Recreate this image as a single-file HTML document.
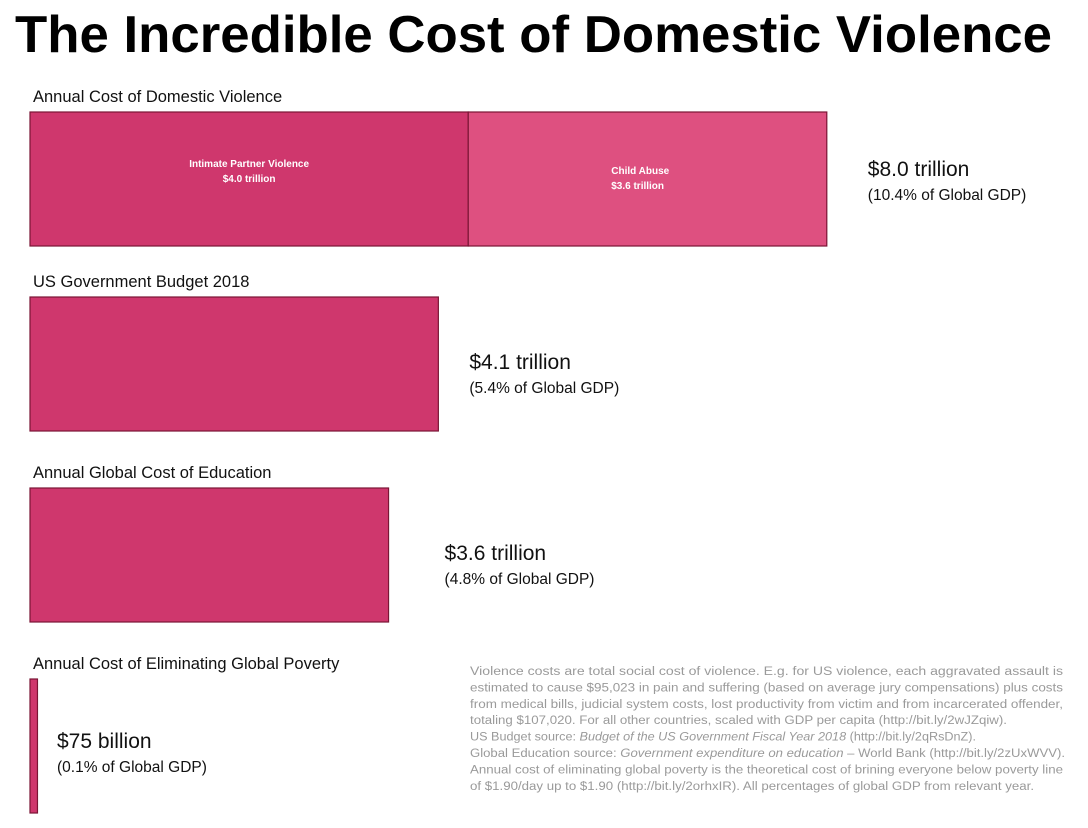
<!DOCTYPE html>
<html><head><meta charset="utf-8"><style>
html,body{margin:0;padding:0;background:#fff;}
svg{display:block;font-family:"Liberation Sans",sans-serif;}
</style></head><body>
<svg id="chart" width="1088" height="828" viewBox="0 0 1088 828" xmlns="http://www.w3.org/2000/svg">
<text x="15" y="52" font-size="52" font-weight="bold" fill="#000" textLength="1037" lengthAdjust="spacingAndGlyphs">The Incredible Cost of Domestic Violence</text>
<g id="bars"></g>
<g id="notes" font-size="11.5" fill="#9a9a9a"></g>
</svg>
<script>
const categories = ["Annual Cost of Domestic Violence","US Government Budget 2018","Annual Global Cost of Education","Annual Cost of Eliminating Global Poverty"];
const totalLabels = ["$8.0 trillion","$4.1 trillion","$3.6 trillion","$75 billion"];
const gdpLabels = ["(10.4% of Global GDP)","(5.4% of Global GDP)","(4.8% of Global GDP)","(0.1% of Global GDP)"];
const values = [8.0, 4.1, 3.6, 0.075];
const segNames = ["Intimate Partner Violence","Child Abuse"];
const segLabels = ["$4.0 trillion","$3.6 trillion"];
const segValues = [4.4, 3.6];

const NS = "http://www.w3.org/2000/svg";
const x0 = 30, pxPerT = 99.6;
const xScale = v => v * pxPerT;
const rowTops = [112, 297, 488, 679];
const labelOffsets = [41, 31, 56, 0];
const barH = 134;
const g = document.getElementById('bars');
function mk(tag, attrs, txt){const e=document.createElementNS(NS,tag);for(const k in attrs)e.setAttribute(k,attrs[k]);if(txt!==undefined)e.textContent=txt;return e;}

categories.forEach((c,i)=>{
  const y = rowTops[i];
  const lab = mk('text',{x:33,y:y-10,'font-size':16.5,fill:'#111'},c);
  
  
  g.appendChild(lab);
  if(i===0){
    let x=x0;
    segValues.forEach((v,j)=>{
      const w=xScale(v);
      const r=mk('rect',{x:x,y:y,width:w,height:barH,fill:j===0?'#cf376d':'#de5080',stroke:'#7a1535','stroke-width':1.2});
      
      
      g.appendChild(r);
      const anchor=j===0?'middle':'start';
      const tx=j===0?x+w/2:x+143;
      const ty=j===0?y+55:y+62;
      const t1=mk('text',{x:tx,y:ty,'font-size':10,'font-weight':'bold',fill:'#fff','text-anchor':anchor},segNames[j]);
      
      
      g.appendChild(t1);
      const t2=mk('text',{x:tx,y:ty+15,'font-size':10,'font-weight':'bold',fill:'#fff','text-anchor':anchor},segLabels[j]);
      
      
      g.appendChild(t2);
      x+=w;
    });
  } else {
    const w=Math.max(xScale(values[i]),7);
    const r=mk('rect',{x:x0,y:y,width:w,height:barH,fill:'#cf376d',stroke:'#7a1535','stroke-width':1.2});
    
    
    g.appendChild(r);
  }
  const lx = i===3 ? 57 : x0 + xScale(values[i]) + labelOffsets[i];
  const ly = i===0 ? y+64 : (i===3 ? y+69 : y+72);
  const v1=mk('text',{x:lx,y:ly,'font-size':21,fill:'#111'},totalLabels[i]);
  
  
  g.appendChild(v1);
  const v2=mk('text',{x:lx,y:ly+24,'font-size':15.5,fill:'#111'},gdpLabels[i]);
  
  
  g.appendChild(v2);
});

const noteLines = [
 [["Violence costs are total social cost of violence. E.g. for US violence, each aggravated assault is"],593],
 [["estimated to cause $95,023 in pain and suffering (based on average jury compensations) plus costs"],593],
 [["from medical bills, judicial system costs, lost productivity from victim and from incarcerated offender,"],593],
 [["totaling $107,020. For all other countries, scaled with GDP per capita (http://bit.ly/2wJZqiw)."],537],
 [["US Budget source: ","*Budget of the US Government Fiscal Year 2018"," (http://bit.ly/2qRsDnZ)."],506],
 [["Global Education source: ","*Government expenditure on education"," – World Bank (http://bit.ly/2zUxWVV)."],595],
 [["Annual cost of eliminating global poverty is the theoretical cost of brining everyone below poverty line"],593],
 [["of $1.90/day up to $1.90 (http://bit.ly/2orhxIR). All percentages of global GDP from relevant year."],564]
];
const ng=document.getElementById('notes');
noteLines.forEach((l,i)=>{
  const t=mk('text',{x:470,y:675+i*16.4,textLength:l[1],lengthAdjust:'spacingAndGlyphs'});
  l[0].forEach(p=>{
    const it=p.startsWith('*');
    const s=mk('tspan',it?{'font-style':'italic'}:{},it?p.slice(1):p);
    t.appendChild(s);
  });
  
  
  ng.appendChild(t);
});
</script>
</body></html>
